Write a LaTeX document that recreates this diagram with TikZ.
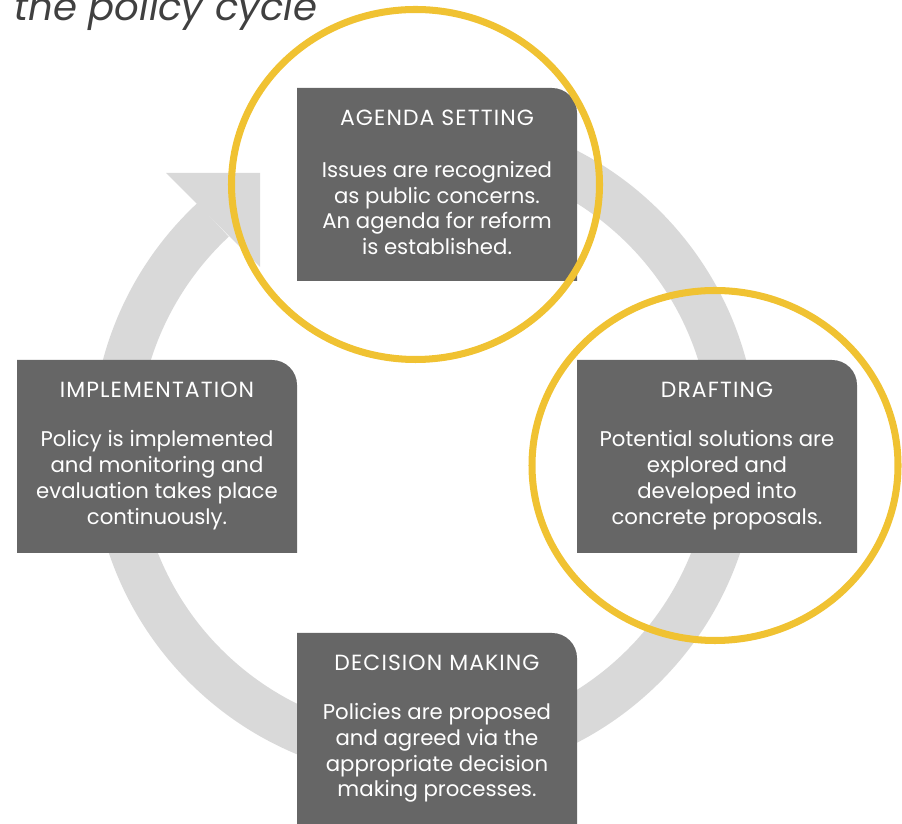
\documentclass[tikz,border=0pt]{standalone}
\usepackage{fontspec}
\setmainfont{Poppins}
\usetikzlibrary{calc}

\definecolor{boxgrey}{HTML}{666666}
\definecolor{ringgrey}{HTML}{D9D9D9}
\definecolor{markyellow}{HTML}{F0C232}
\definecolor{titlegrey}{HTML}{404040}

\begin{document}
\begin{tikzpicture}[x=0.02cm, y=0.02cm,
    stagehead/.style={text=white,
      font=\fontsize{12.5}{14}\selectfont\addfontfeatures{LetterSpace=5}},
    stagetext/.style={text=white, align=center, inner sep=0pt,
      font=\fontsize{12.1}{14.7}\selectfont},
    focusring/.style={draw=markyellow, line width=4pt}]
  \useasboundingbox (0,0) rectangle (902,824);
  \clip (0,0) rectangle (902,824);

  % title, cut by the top edge
  \node [anchor=base west, inner sep=0pt, text=titlegrey,
    font=\fontsize{22}{22}\selectfont\itshape] (title) at (14,803) {the policy cycle};

  % the grey cycle arrow
  \coordinate (c) at (424.5,377.4);
  \fill [ringgrey] ($(c)+(133:333)$) arc [start angle=133, end angle=460, radius=333]
    -- ($(c)+(460:287)$) arc [start angle=460, end angle=133, radius=287] -- cycle;
  \fill [ringgrey] (166,651) -- (260,651) -- (260,557) -- cycle;

  % the four stages
  \foreach \nm/\lx/\ty/\hd/\tx in {
      agenda/297/736/{AGENDA SETTING}/{Issues are recognized\\as public concerns.\\An agenda for reform\\is established.},
      implementation/17/464/{IMPLEMENTATION}/{Policy is implemented\\and monitoring and\\evaluation takes place\\continuously.},
      drafting/577/464/{DRAFTING}/{Potential solutions are\\explored and\\developed into\\concrete proposals.},
      decision/297/191/{DECISION MAKING}/{Policies are proposed\\and agreed via the\\appropriate decision\\making processes.}} {
    \fill [boxgrey] (\lx,\ty-193) -- (\lx,\ty) -- (\lx+255,\ty)
      .. controls (\lx+268.8,\ty) and (\lx+280,\ty-11.2) .. (\lx+280,\ty-25)
      -- (\lx+280,\ty-193) -- cycle;
    \node [stagehead] (\nm-head) at (\lx+140,\ty-30) {\hd};
    \node [stagetext] (\nm-text) at (\lx+140,\ty-120) {\tx};
  }

  % highlighted stages
  \draw [focusring] (415.5,639.5) ellipse [x radius=184, y radius=175];
  \draw [focusring] (715,358.5) ellipse [x radius=183, y radius=175];
\end{tikzpicture}
\end{document}
